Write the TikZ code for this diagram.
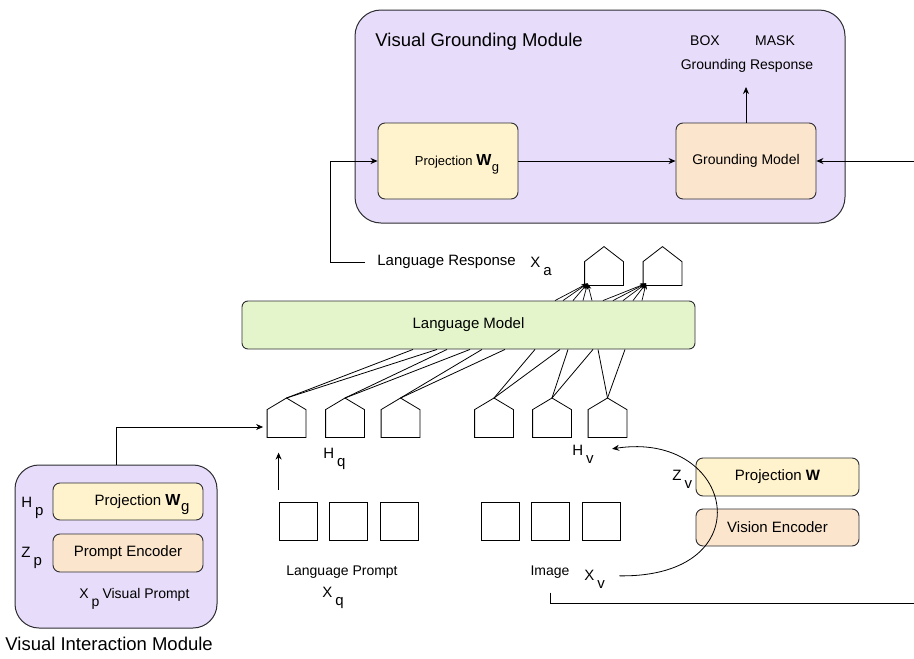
\documentclass[tikz,border=0pt]{standalone}
\usepackage{fontspec}
\setmainfont{Liberation Sans}
\usetikzlibrary{arrows.meta,calc}

\definecolor{lav}{RGB}{231,221,250}
\definecolor{yel}{RGB}{255,243,205}
\definecolor{peach}{RGB}{252,229,205}
\definecolor{lmgreen}{RGB}{228,245,204}
\definecolor{edge}{RGB}{45,45,50}

% letter with a lowered index, as in H q
\newcommand{\sublab}[2]{#1\hspace{3pt}\smash{\raisebox{-8pt}{#2}}}
% bold W with lowered g
\newcommand{\Wg}{{\fontsize{16}{16}\selectfont\bfseries W}\hspace{0.5pt}\smash{\raisebox{-6pt}{g}}}

\begin{document}
\begin{tikzpicture}[x=1pt,y=-1pt,
  font=\fontsize{15}{17}\selectfont,
  line width=0.8pt,
  box/.style={draw=edge, rounded corners=7pt, inner sep=0pt, line width=0.9pt},
  module/.style={draw=edge, fill=lav, rounded corners=26pt, line width=1pt, inner sep=0pt},
  arr/.style={-{Stealth[length=7pt,width=6pt]}},
  arrs/.style={-{Stealth[length=6pt,width=4.5pt]}, line width=0.7pt},
  house/.style={inner sep=0pt, minimum width=38pt},
  sq/.style={draw, minimum size=38pt, inner sep=0pt},
  lab/.style={inner sep=0pt, anchor=base west},
  title/.style={inner sep=0pt, anchor=west, font=\fontsize{18.5}{20}\selectfont},
  small/.style={font=\fontsize{14}{16}\selectfont},
]
\useasboundingbox (0,0) rectangle (914,659);

% ---------- Visual Grounding Module ----------
\node[module, minimum width=490pt, minimum height=213pt] (vgm) at (600,116.5) {};
\node[title] (vgmt) at (375,42) {Visual Grounding Module};
\node[box, fill=yel, minimum width=140pt, minimum height=76pt,
      font=\fontsize{13}{15}\selectfont] (projg) at (448,161) {\hspace*{18pt}Projection \Wg};
\node[box, small, fill=peach, minimum width=140pt, minimum height=76pt] (gm) at (746,161) {Grounding Model};
\node[small, inner sep=0pt] (box) at (705,41) {BOX};
\node[small, inner sep=0pt] (mask) at (775,41) {MASK};
\node[small, inner sep=0pt] (gresp) at (747,66) {Grounding Response};
\coordinate (grtip) at (746,87);
\coordinate (edgeR) at (914,161);
\draw[arr] (gm.north) -- (grtip);
\draw[arr] (projg) -- (gm);
\draw[arr] (edgeR) -- (gm.east);

% ---------- language response ----------
\node[anchor=west, inner sep=0pt] (lresp) at (377,262) {Language Response};
\node[lab] (xa) at (530,267) {\sublab{X}{a}};
\draw[arr] ([xshift=-12pt]lresp.west) -- ++(-35,0) |- (projg.west);

\node[house, minimum height=23pt] (qa) at (604,273.5) {};
\node[house, minimum height=23pt] (qb) at (662.5,273.5) {};
\foreach \n in {qa,qb} {
  \draw (\n.north west) -- (\n.south west) -- (\n.south east) -- (\n.north east)
        -- ($(\n.north)+(0,-15)$) -- cycle;
}

% ---------- language model ----------
\node[box, fill=lmgreen, rounded corners=6pt, minimum width=453pt, minimum height=48pt] (lm) at (468.5,325) {Language Model};

\foreach \a in {555,563,573,583,592}
  \draw[arrs] (lm.north -| \a,0) -- ([shift={(3pt,2pt)}]qa.south west);
\foreach \a in {603,613,623,633,642}
  \draw[arrs] (lm.north -| \a,0) -- ([shift={(3pt,2pt)}]qb.south west);

% ---------- token embeddings ----------
\foreach \n/\x in {p1/286.5, p2/345, p3/400.5, p4/494, p5/552, p6/607.5} {
  \node[house, minimum height=27pt] (\n) at (\x,423.5) {};
  \coordinate (\n-top) at (\x,398);
  \draw (\n.north west) -- (\n.south west) -- (\n.south east) -- (\n.north east)
        -- (\n-top) -- cycle;
}
\foreach \n/\a/\b in {p1/413/437, p2/447/470, p3/482/505, p4/535/560, p5/568/593, p6/598/625} {
  \draw (\n-top) -- (lm.south -| \a,0);
  \draw (\n-top) -- (lm.south -| \b,0);
}

\node[lab] (hq) at (323,458) {\sublab{H}{q}};
\node[lab] (hv) at (572,455) {\sublab{H}{v}};

% ---------- language prompt ----------
\node[sq] (s1) at (298,521) {};
\node[sq] (s2) at (348,521) {};
\node[sq] (s3) at (399,521) {};
\draw[arr] ([yshift=12pt]s1.north west) -- ++(0,-37);
\node[small, inner sep=0pt] (lp) at (342,572) {Language Prompt};
\node[lab] (xq) at (322,597) {\sublab{X}{q}};

% ---------- image ----------
\node[sq] (i1) at (500,521) {};
\node[sq] (i2) at (550,521) {};
\node[sq] (i3) at (601,521) {};
\node[small, inner sep=0pt] (img) at (550,572) {Image};
\node[lab] (xv) at (584,580) {\sublab{X}{v}};
\coordinate (edgeB) at (914,603);
\draw ([yshift=-14pt]img.south) |- (edgeB);

% ---------- vision encoder ----------
\node[box, fill=yel, minimum width=163pt, minimum height=38pt] (projw) at (777.5,477) {Projection \textbf{W}};
\node[box, fill=peach, minimum width=163pt, minimum height=37pt] (venc) at (777.5,527.5) {Vision Encoder};
\node[lab] (zv) at (672,480) {\sublab{Z}{v}};
\draw[arr] ([xshift=14pt,yshift=-1pt]xv.east) .. controls (765,578) and (735,430) .. ([xshift=18pt,yshift=1pt]hv.east);

% ---------- Visual Interaction Module ----------
\node[module, rounded corners=24pt, minimum width=202pt, minimum height=163pt] (vim) at (116,546.5) {};
\node[box, fill=yel, minimum width=150pt, minimum height=37pt] (vprojg) at (128,501.5) {\hspace*{28pt}Projection \Wg};
\node[box, fill=peach, minimum width=150pt, minimum height=38pt] (penc) at (128,553) {Prompt Encoder};
\node[lab] (hp) at (21,507) {\sublab{H}{p}};
\node[lab] (zp) at (21,557) {\sublab{Z}{p}};
\node[lab, small] (xp) at (79,598) {\sublab{X}{p}\hspace{3pt}Visual Prompt};
\node[title] (vimt) at (5,644) {Visual Interaction Module};
\draw[arr] (vim.north) |- ([xshift=-4pt,yshift=-3.5pt]p1.west);

\end{tikzpicture}
\end{document}
